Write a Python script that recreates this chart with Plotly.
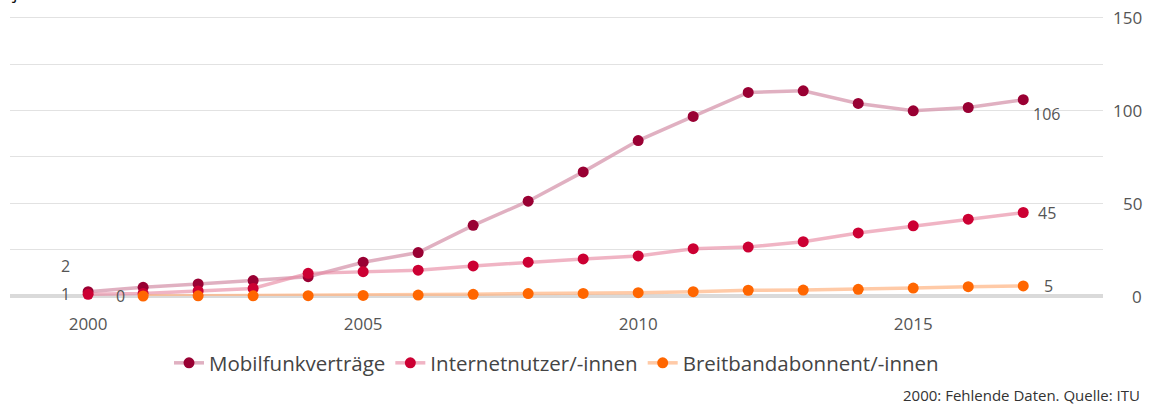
import plotly.graph_objects as go

years = list(range(2000, 2018))
mobilfunk = [2.3, 4.7, 6.5, 8.3, 10.4, 18.2, 23.4, 38.1, 51.1, 66.9, 83.8, 96.8, 109.7, 110.6, 103.8, 99.8, 101.6, 105.8]
internet = [0.9, 1.4, 2.7, 4.1, 12.2, 13.1, 13.9, 16.2, 18.2, 20.0, 21.6, 25.5, 26.4, 29.3, 34.0, 37.8, 41.4, 45.0]
breitband = [None, 0.0, 0.1, 0.1, 0.2, 0.3, 0.5, 0.9, 1.3, 1.4, 1.8, 2.3, 3.1, 3.2, 3.6, 4.3, 5.0, 5.4]
series_names = ["Mobilfunkverträge", "Internetnutzer/-innen", "Breitbandabonnent/-innen"]
y_ticks = [0, 50, 100, 150]
x_ticks = [2000, 2005, 2010, 2015]
footnote = "2000: Fehlende Daten. Quelle: ITU"
title_text = "je 100 Einwohner/-innen"

FONT = "Open Sans"
LABEL_COLOR = "#555555"

# (values, line colour, marker colour, first-label shift, last-label (anchor, xshift, yshift))
styles = [
    (mobilfunk, "rgba(214,150,172,0.75)", "#990033", (-23, 26), ("left", 8, -14)),
    (internet, "rgba(232,140,165,0.65)", "#cc0033", (-23, 0), ("left", 13, 0)),
    (breitband, "rgba(255,180,130,0.7)", "#ff6600", (-23, 0), ("left", 19, 0)),
]

fig = go.Figure()
for name, (vals, lc, mc, first_shift, last_lab) in zip(series_names, styles):
    idx = [i for i, v in enumerate(vals) if v is not None]
    f, l = idx[0], idx[-1]
    fig.add_trace(go.Scatter(
        x=years, y=vals, name=name, mode="lines+markers",
        line=dict(color=lc, width=3.5),
        marker=dict(color=mc, size=11),
        cliponaxis=False, connectgaps=False, hoverinfo="x+y",
    ))
    fig.add_annotation(x=years[f], y=vals[f], xref="x", yref="y",
                       text=f"{vals[f]:.0f}", showarrow=False,
                       xanchor="center", yanchor="middle",
                       xshift=first_shift[0], yshift=first_shift[1],
                       font=dict(family=FONT, size=16, color=LABEL_COLOR))
    fig.add_annotation(x=years[l], y=vals[l], xref="x", yref="y",
                       text=f"{vals[l]:.0f}", showarrow=False,
                       xanchor=last_lab[0], yanchor="middle",
                       xshift=last_lab[1], yshift=last_lab[2],
                       font=dict(family=FONT, size=16, color=LABEL_COLOR))

for v in y_ticks:
    fig.add_annotation(x=1, xref="paper", y=v, yref="y", text=str(v),
                       xanchor="right", yanchor="middle", xshift=41,
                       showarrow=False,
                       font=dict(family=FONT, size=17, color=LABEL_COLOR))

fig.add_annotation(x=1, xref="paper", y=-0.35, yref="paper", text=footnote,
                   xanchor="right", yanchor="middle", xshift=39, showarrow=False,
                   font=dict(family=FONT, size=15, color="#333333"))

fig.add_annotation(x=0, xref="paper", y=1.028, yref="paper", text=title_text,
                   xanchor="left", yanchor="bottom", showarrow=False,
                   font=dict(family=FONT, size=18, color="#111111"))

fig.update_layout(
    width=1151, height=405,
    margin=dict(l=10, r=48, t=14, b=109),
    paper_bgcolor="white", plot_bgcolor="white",
    font=dict(family=FONT, color=LABEL_COLOR),
    showlegend=True,
    legend=dict(orientation="h", x=0.5, xanchor="center", y=-0.2376, yanchor="middle",
                font=dict(family=FONT, size=20.5, color="#444444"),
                itemwidth=30, tracegroupgap=0),
    xaxis=dict(range=[1998.58, 2018.45], tickvals=x_ticks, showgrid=False,
               zeroline=False, showline=False, ticks="",
               ticklabelstandoff=16,
               tickfont=dict(family=FONT, size=17, color=LABEL_COLOR)),
    yaxis=dict(range=[0, 152], dtick=25, showticklabels=False, side="right",
               showgrid=True, gridcolor="#e2e2e2", gridwidth=1,
               zeroline=True, zerolinecolor="#dadada", zerolinewidth=4,
               showline=False, ticks=""),
)

fig.write_html("out.html", config={"displayModeBar": False},
               post_script="document.body.style.margin='0';document.body.style.overflow='hidden';")
